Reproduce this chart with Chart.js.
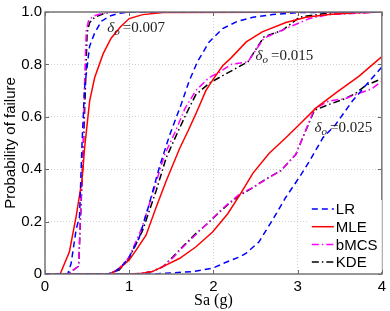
<!DOCTYPE html>
<html>
<head>
<meta charset="utf-8">
<script src="https://cdn.jsdelivr.net/npm/chart.js@4"></script>
<style>
html,body{margin:0;padding:0;background:#fff;}
#wrap{width:390px;height:311px;}
</style>
</head>
<body>
<div id="wrap"><canvas id="c" width="390" height="311"></canvas></div>
<script>
// ---- data ----
const methods = ['LR', 'MLE', 'bMCS', 'KDE'];
const xTicks = [0, 1, 2, 3, 4];
const yTicks = [0, 0.2, 0.4, 0.6, 0.8, 1];

// delta_o = 0.007
const lr007x = [0, 0.27, 0.31, 0.37, 0.41, 0.44, 0.47, 0.53, 0.59, 0.67, 0.77, 0.88, 1.0, 4.0];
const lr007y = [0, 0, 0.04, 0.17, 0.22, 0.5, 0.71, 0.87, 0.92, 0.965, 0.985, 0.995, 1.0, 1.0];
const mle007x = [0, 0.18, 0.29, 0.37, 0.44, 0.47, 0.5, 0.53, 0.59, 0.69, 0.785, 0.9, 1.0, 1.16, 1.4, 4.0];
const mle007y = [0, 0, 0.085, 0.22, 0.36, 0.48, 0.57, 0.66, 0.75, 0.84, 0.9, 0.945, 0.975, 0.99, 0.998, 1.0];
const bmcs007x = [0, 0.27, 0.40, 0.42, 0.45, 0.47, 0.49, 0.52, 0.58, 0.7, 0.8, 4];
const bmcs007y = [0, 0, 0.03, 0.22, 0.45, 0.73, 0.93, 0.97, 0.985, 0.996, 1, 1];
const kde007x = [0, 0.27, 0.40, 0.42, 0.45, 0.48, 0.50, 0.53, 0.59, 0.7, 0.8, 4];
const kde007y = [0, 0, 0.03, 0.2, 0.43, 0.71, 0.92, 0.96, 0.98, 0.994, 1, 1];

// delta_o = 0.015
const lr015x = [0, 0.75, 0.84, 0.94, 1.0, 1.12, 1.24, 1.36, 1.48, 1.62, 1.71, 1.81, 1.95, 2.11, 2.29, 2.47, 2.7, 3.0, 4];
const lr015y = [0, 0, 0.01, 0.04, 0.065, 0.14, 0.27, 0.41, 0.53, 0.65, 0.735, 0.81, 0.886, 0.937, 0.965, 0.98, 0.99, 0.998, 1];
const mle015x = [0, 0.77, 0.88, 1.0, 1.08, 1.2, 1.32, 1.44, 1.6, 1.69, 1.79, 1.91, 2.0, 2.11, 2.21, 2.39, 2.58, 2.86, 3.1, 3.37, 3.7, 4];
const mle015y = [0, 0, 0.02, 0.053, 0.09, 0.148, 0.255, 0.356, 0.48, 0.54, 0.61, 0.70, 0.745, 0.795, 0.825, 0.886, 0.924, 0.96, 0.98, 0.99, 0.997, 1];
const bmcs015x = [0, 0.75, 0.87, 1.0, 1.15, 1.3, 1.42, 1.55, 1.66, 1.79, 1.95, 2.07, 2.21, 2.41, 2.60, 2.86, 3.14, 3.37, 4];
const bmcs015y = [0, 0, 0.018, 0.065, 0.175, 0.33, 0.455, 0.545, 0.63, 0.70, 0.75, 0.77, 0.80, 0.81, 0.90, 0.937, 0.975, 0.99, 1];
const kde015x = [0, 0.75, 0.88, 1.0, 1.16, 1.32, 1.44, 1.56, 1.675, 1.79, 1.95, 2.07, 2.41, 2.60, 2.82, 3.02, 3.34, 4];
const kde015y = [0, 0, 0.015, 0.06, 0.167, 0.318, 0.444, 0.53, 0.61, 0.684, 0.728, 0.75, 0.81, 0.905, 0.93, 0.98, 0.995, 1];

// delta_o = 0.025
const lr025x = [0, 1.3, 1.75, 1.99, 2.15, 2.31, 2.39, 2.54, 2.70, 2.86, 3.02, 3.14, 3.30, 3.45, 3.65, 3.81, 4.0];
const lr025y = [0, 0, 0.009, 0.022, 0.045, 0.065, 0.08, 0.122, 0.205, 0.293, 0.369, 0.43, 0.52, 0.57, 0.66, 0.72, 0.79];
const mle025x = [0, 1.0, 1.16, 1.28, 1.40, 1.6, 1.79, 1.99, 2.17, 2.31, 2.47, 2.66, 2.86, 3.06, 3.22, 3.45, 3.73, 4.0];
const mle025y = [0, 0, 0.003, 0.01, 0.028, 0.06, 0.103, 0.16, 0.23, 0.3, 0.385, 0.46, 0.52, 0.583, 0.634, 0.69, 0.755, 0.83];
const bmcs025x = [0, 1.1, 1.28, 1.4, 1.52, 1.63, 1.79, 1.95, 2.11, 2.31, 2.47, 2.62, 2.80, 2.98, 3.06, 3.20, 3.37, 3.57, 3.73, 3.87, 4.0];
const bmcs025y = [0, 0, 0.01, 0.028, 0.062, 0.1, 0.15, 0.2, 0.25, 0.305, 0.33, 0.36, 0.394, 0.457, 0.52, 0.63, 0.66, 0.67, 0.69, 0.705, 0.735];
const kde025x = [0, 1.1, 1.28, 1.4, 1.52, 1.63, 1.79, 1.95, 2.07, 2.19, 2.31, 2.47, 2.62, 2.80, 2.98, 3.06, 3.20, 3.37, 3.57, 3.69, 3.81, 4.0];
const kde025y = [0, 0, 0.01, 0.028, 0.066, 0.103, 0.154, 0.198, 0.236, 0.27, 0.30, 0.33, 0.362, 0.394, 0.457, 0.52, 0.625, 0.647, 0.67, 0.69, 0.72, 0.745];

// annotation labels: [text value, x, y]
const annotations = [
  ['0.007', 0.74, 0.94],
  ['0.015', 2.5, 0.833],
  ['0.025', 3.2, 0.557]
];

// ---- styles ----
const styles = {
  LR:   {color: '#0000ff', dash: [6, 4]},
  MLE:  {color: '#ff0000', dash: []},
  bMCS: {color: '#ff00ff', dash: [7, 3, 1.5, 3]},
  KDE:  {color: '#000000', dash: [7, 3, 1.5, 3]}
};

function pts(xs, ys) { return xs.map((x, i) => ({x: x, y: ys[i]})); }

const groups = [
  {LR: [lr007x, lr007y], MLE: [mle007x, mle007y], bMCS: [bmcs007x, bmcs007y], KDE: [kde007x, kde007y]},
  {LR: [lr015x, lr015y], MLE: [mle015x, mle015y], bMCS: [bmcs015x, bmcs015y], KDE: [kde015x, kde015y]},
  {LR: [lr025x, lr025y], MLE: [mle025x, mle025y], bMCS: [bmcs025x, bmcs025y], KDE: [kde025x, kde025y]}
];

const datasets = [];
methods.forEach((m) => {
  groups.forEach((g, gi) => {
    datasets.push({
      label: m,
      legendEntry: gi === 0,
      data: pts(g[m][0], g[m][1]),
      borderColor: styles[m].color,
      backgroundColor: styles[m].color,
      borderDash: styles[m].dash,
      borderWidth: 1.5,
      pointRadius: 0,
      tension: 0,
      fill: false
    });
  });
});

const sansFont = "'Liberation Sans', Arial, Helvetica, sans-serif";
const serifFont = "'Liberation Serif', 'Times New Roman', serif";

const framePlugin = {
  id: 'frame',
  afterDraw(chart) {
    const ctx = chart.ctx;
    const a = chart.chartArea;
    const xs = chart.scales.x, ys = chart.scales.y;
    ctx.save();
    // inward tick marks
    ctx.strokeStyle = '#666';
    ctx.lineWidth = 1;
    ctx.setLineDash([]);
    xTicks.forEach(v => {
      const px = Math.round(xs.getPixelForValue(v)) + 0.5;
      ctx.beginPath();
      ctx.moveTo(px, a.bottom); ctx.lineTo(px, a.bottom - 4);
      ctx.moveTo(px, a.top); ctx.lineTo(px, a.top + 4);
      ctx.stroke();
    });
    yTicks.forEach(v => {
      const py = Math.round(ys.getPixelForValue(v)) + 0.5;
      ctx.beginPath();
      ctx.moveTo(a.left, py); ctx.lineTo(a.left + 4, py);
      ctx.moveTo(a.right, py); ctx.lineTo(a.right - 4, py);
      ctx.stroke();
    });
    // box
    ctx.strokeStyle = '#777';
    ctx.lineWidth = 1.5;
    ctx.strokeRect(a.left, a.top, a.right - a.left, a.bottom - a.top);

    // annotations
    annotations.forEach(([val, x, y]) => {
      const px = xs.getPixelForValue(x);
      const py = ys.getPixelForValue(y);
      ctx.fillStyle = '#222';
      ctx.textBaseline = 'middle';
      ctx.textAlign = 'left';
      ctx.font = 'italic 15px ' + serifFont;
      ctx.fillText('\u03b4', px, py);
      let w = ctx.measureText('\u03b4').width;
      ctx.font = 'italic 11px ' + serifFont;
      ctx.fillText('o', px + w, py + 4);
      w += ctx.measureText('o').width + 3;
      ctx.font = '15px ' + serifFont;
      ctx.fillText('=' + val, px + w, py);
    });

    // legend
    const lx = a.right - 70, ly0 = a.bottom - 65, dy = 17.7;
    ctx.fillStyle = '#fff';
    ctx.fillRect(lx - 4, ly0 - 9, 74, 72);
    chart.data.datasets.filter(d => d.legendEntry).forEach((d, i) => {
      const y = ly0 + i * dy;
      ctx.strokeStyle = d.borderColor;
      ctx.lineWidth = 1.5;
      ctx.setLineDash(d.borderDash);
      ctx.beginPath();
      ctx.moveTo(lx, y); ctx.lineTo(lx + 22, y);
      ctx.stroke();
      ctx.setLineDash([]);
      ctx.fillStyle = '#000';
      ctx.font = '15px ' + sansFont;
      ctx.textAlign = 'left';
      ctx.textBaseline = 'middle';
      ctx.fillText(d.label, lx + 24, y + 1);
    });
    ctx.restore();
  }
};

new Chart(document.getElementById('c'), {
  type: 'line',
  data: {datasets: datasets},
  options: {
    responsive: false,
    animation: false,
    devicePixelRatio: 1,
    layout: {padding: {left: 0, right: 7, top: 10, bottom: 0}},
    plugins: {legend: {display: false}, tooltip: {enabled: false}},
    scales: {
      x: {
        type: 'linear',
        min: 0, max: 4,
        afterBuildTicks: (s) => { s.ticks = xTicks.map(v => ({value: v})); },
        afterFit: (s) => { s.height = 37; },
        grid: {color: '#d0d0d0', borderDash: [1, 2], drawTicks: false, tickLength: 0},
        border: {display: false, dash: [1, 2]},
        ticks: {padding: 4, color: '#000', font: {family: sansFont, size: 15}, maxRotation: 0},
        title: {display: true, text: 'Sa (g)', color: '#000', font: {family: serifFont, size: 16}, padding: {top: 0, bottom: 1}}
      },
      y: {
        type: 'linear',
        min: 0, max: 1,
        afterBuildTicks: (s) => { s.ticks = yTicks.map(v => ({value: v})); },
        afterFit: (s) => { s.width = 45; },
        grid: {color: '#d0d0d0', drawTicks: false, tickLength: 0},
        border: {display: false, dash: [1, 2]},
        ticks: {padding: 3, color: '#000', font: {family: sansFont, size: 15}},
        title: {display: true, text: 'Probability of failure', color: '#000', font: {family: sansFont, size: 15}, padding: {top: 2, bottom: 0}}
      }
    }
  },
  plugins: [framePlugin]
});
</script>
</body>
</html>
